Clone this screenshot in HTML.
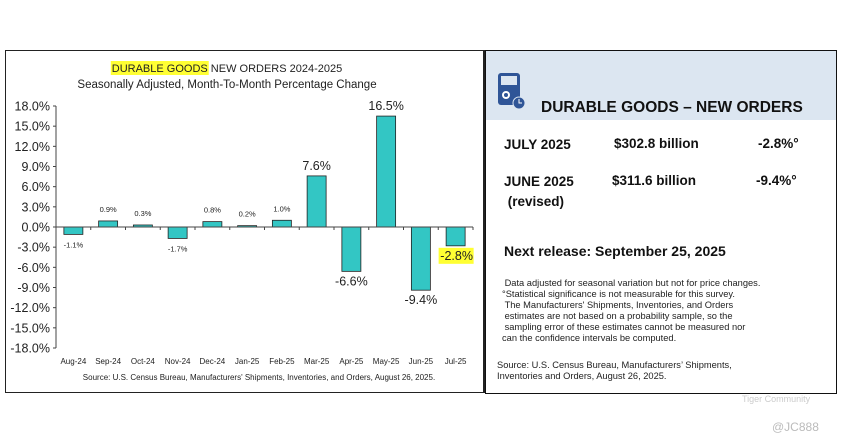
<!DOCTYPE html>
<html><head><meta charset="utf-8"><style>
body{margin:0;width:843px;height:446px;background:#fff;font-family:"Liberation Sans",sans-serif;position:relative;overflow:hidden}
.a{position:absolute;white-space:nowrap}
</style></head><body>
<div class="a" style="left:5px;top:50px;width:477px;height:341px;border:1px solid #222;border-right:2px solid #222"></div>
<div class="a" style="left:485px;top:50px;width:350px;height:342px;border:1px solid #111"></div>
<div class="a" style="left:486px;top:51px;width:350px;height:69px;background:#dce6f1"></div>
<svg class="a" style="left:0;top:0" width="843" height="446" id="chart">
<text id="ttl" x="227" y="72" text-anchor="middle" font-size="11" fill="#222">DURABLE GOODS NEW ORDERS 2024-2025</text>
<text x="227" y="88" text-anchor="middle" font-size="11.5" fill="#222">Seasonally Adjusted,  Month-To-Month Percentage Change</text>
<text x="259" y="380" text-anchor="middle" font-size="8" fill="#222">Source: U.S. Census Bureau, Manufacturers' Shipments, Inventories, and Orders, August 26, 2025.</text>
</svg>
<svg class="a" style="left:497px;top:72px" width="30" height="40">
<rect x="1" y="1" width="22" height="32" rx="3" fill="#2f5597"/><rect x="4" y="4" width="16" height="9" fill="#dce6f1"/><circle cx="9" cy="23" r="4" fill="#fff"/><circle cx="9" cy="23" r="2" fill="#2f5597"/><circle cx="22" cy="31" r="6" fill="#2f5597" stroke="#dce6f1"/><path d="M22 27v4h3" stroke="#fff" fill="none"/>
</svg>
<div class="a" style="left:541px;top:99px;font-size:15.5px;font-weight:bold;color:#111">DURABLE GOODS – NEW ORDERS</div>
<div class="a" style="left:504px;top:137px;font-size:13.5px;font-weight:bold;color:#111">JULY 2025</div>
<div class="a" style="left:614px;top:136px;font-size:13.5px;font-weight:bold;color:#111">$302.8 billion</div>
<div class="a" style="left:758px;top:136px;font-size:13.5px;font-weight:bold;color:#111">-2.8%°</div>
<div class="a" style="left:504px;top:172px;font-size:13.5px;font-weight:bold;color:#111;line-height:20px">JUNE 2025<br>&nbsp;(revised)</div>
<div class="a" style="left:612px;top:173px;font-size:13.5px;font-weight:bold;color:#111">$311.6 billion</div>
<div class="a" style="left:756px;top:173px;font-size:13.5px;font-weight:bold;color:#111">-9.4%°</div>
<div class="a" style="left:504px;top:243px;font-size:14px;font-weight:bold;color:#111">Next release:  September 25, 2025</div>
<div class="a" style="left:502px;top:278px;font-size:9.3px;color:#222;line-height:11px">&nbsp;Data adjusted for seasonal variation but not for price changes.<br>°Statistical significance is not measurable for this survey.<br>&nbsp;The Manufacturers' Shipments, Inventories, and Orders<br>&nbsp;estimates are not based on a probability sample, so the<br>&nbsp;sampling error of these estimates cannot be measured nor<br>can the confidence intervals be computed.</div>
<div class="a" style="left:497px;top:360px;font-size:9.3px;color:#222;line-height:10.5px">Source: U.S. Census Bureau, Manufacturers’ Shipments,<br>Inventories and Orders, August 26, 2025.</div>
<div class="a" style="left:742px;top:394px;font-size:9px;color:#ccc">Tiger Community</div>
<div class="a" style="left:772px;top:420px;font-size:12px;color:#bbb">@JC888</div>
<script>
const categories=["Aug-24","Sep-24","Oct-24","Nov-24","Dec-24","Jan-25","Feb-25","Mar-25","Apr-25","May-25","Jun-25","Jul-25"];
const values=[-1.1,0.9,0.3,-1.7,0.8,0.2,1.0,7.6,-6.6,16.5,-9.4,-2.8];
const valueLabels=["-1.1%","0.9%","0.3%","-1.7%","0.8%","0.2%","1.0%","7.6%","-6.6%","16.5%","-9.4%","-2.8%"];
const ticks=[18,15,12,9,6,3,0,-3,-6,-9,-12,-15,-18];
const tickLabels=["18.0%","15.0%","12.0%","9.0%","6.0%","3.0%","0.0%","-3.0%","-6.0%","-9.0%","-12.0%","-15.0%","-18.0%"];
const svg=document.getElementById('chart');const NS="http://www.w3.org/2000/svg";
const x0=56,x1=473,yTop=106,yBot=348;
const y=v=>yTop+(18-v)/36*(yBot-yTop);
const bw=(x1-x0)/categories.length;
const xc=i=>x0+bw*(i+0.5);
function mk(t,a){const e=document.createElementNS(NS,t);for(const k in a)e.setAttribute(k,a[k]);svg.appendChild(e);return e;}
let ax=mk('line',{x1:x0,x2:x0,y1:yTop,y2:yBot,stroke:'#444'});


ticks.forEach((t,i)=>{
 let l=mk('line',{x1:x0-3,x2:x0,y1:y(t),y2:y(t),stroke:'#444'});
 
 
 let tx=mk('text',{x:x0-6,y:y(t)+4.5,'text-anchor':'end','font-size':12.5,fill:'#222'});tx.textContent=tickLabels[i];
 
 
});
categories.forEach((c,i)=>{
 const v=values[i];const big=Math.abs(v)>2.5;
 let r=mk('rect',{x:xc(i)-9.5,width:19,y:Math.min(y(v),y(0)),height:Math.abs(y(v)-y(0)),fill:'#33c6c4',stroke:'#222','stroke-width':0.8});
 
 
 let ly=v>=0?y(v)-(big?6:9):y(v)+(big?14:13);
 if(i===11){let h=mk('rect',{x:xc(i)-17,y:ly-12,width:35,height:16,fill:'#ffff33'});}
 let t=mk('text',{x:xc(i)+(i===11?1:0),y:ly,'text-anchor':'middle','font-size':big?12.5:7.5,fill:'#222'});t.textContent=valueLabels[i];
 
 
 let xl=mk('text',{x:xc(i),y:364,'text-anchor':'middle','font-size':8,fill:'#222'});xl.textContent=c;
 
 
 let tk=mk('line',{x1:x0+bw*(i+1),x2:x0+bw*(i+1),y1:y(0),y2:y(0)+3,stroke:'#444'});
 
 
});
let zl=mk('line',{x1:x0,x2:x1,y1:y(0),y2:y(0),stroke:'#444'});


// title highlight over "DURABLE GOODS"
const ttl=document.getElementById('ttl');
const s=ttl.getStartPositionOfChar(0).x, e=ttl.getEndPositionOfChar(12).x;
const hl=mk('rect',{x:s-1,y:61,width:e-s+2,height:14,fill:'#ffff33'});


svg.insertBefore(hl,svg.firstChild);
</script>
</body></html>
